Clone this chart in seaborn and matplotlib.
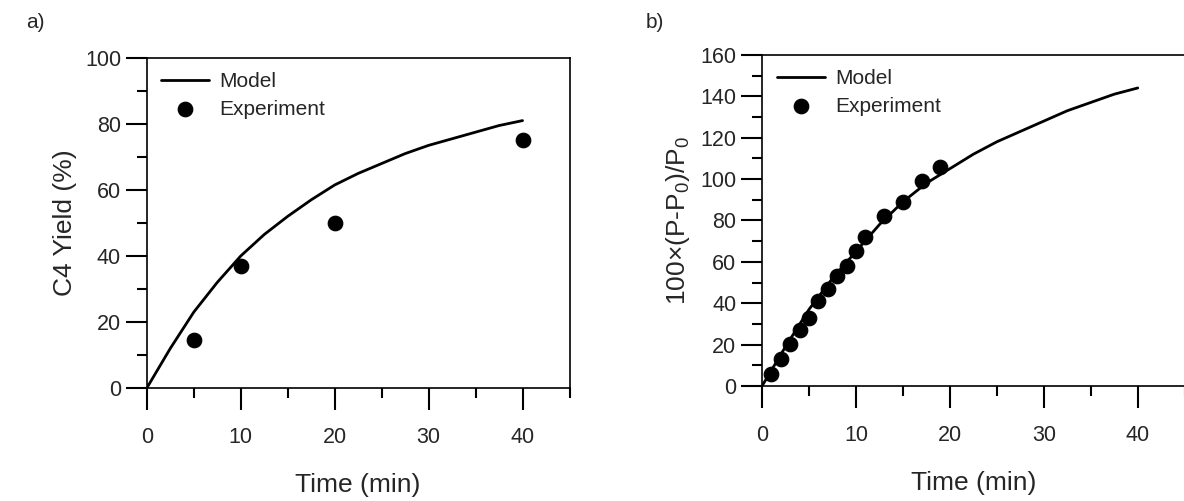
import numpy as np
import pandas as pd
import matplotlib
matplotlib.use("Agg")
import matplotlib.pyplot as plt
from matplotlib.ticker import MultipleLocator
import seaborn as sns

# panel a) C4 yield
model_a_t = [0, 2.5, 5, 7.5, 10, 12.5, 15, 17.5, 20, 22.5, 25, 27.5, 30, 32.5, 35, 37.5, 40]
model_a_y = [0, 12, 23, 32, 40, 46.5, 52, 57, 61.5, 65, 68, 71, 73.5, 75.5, 77.5, 79.5, 81]
exp_a_t = [5, 10, 20, 40]
exp_a_y = [14.5, 37, 50, 75]

# panel b) pressure rise
model_b_t = [0, 2.5, 5, 7.5, 10, 12.5, 15, 17.5, 20, 22.5, 25, 27.5, 30, 32.5, 35, 37.5, 40]
model_b_y = [0, 19, 37, 52, 65, 78, 89, 98, 105, 112, 118, 123, 128, 133, 137, 141, 144]
exp_b_t = [1, 2, 3, 4, 5, 6, 7, 8, 9, 10, 11, 13, 15, 17, 19]
exp_b_y = [6, 13, 20.5, 27, 33, 41, 47, 53, 58, 65, 72, 82, 89, 99, 106]

sns.set_theme(style="ticks")
plt.rcParams['font.family'] = ['Liberation Sans', 'DejaVu Sans']
plt.rcParams['mathtext.default'] = 'regular'

fig = plt.figure(figsize=(11.84, 5.01), dpi=100)
ax1 = fig.add_axes([0.124, 0.2255, 0.357, 0.659])
ax2 = fig.add_axes([0.6436, 0.2295, 0.357, 0.661])

def draw(ax, mt, my, et, ey, ymax, ylabel):
    sns.lineplot(x=mt, y=my, ax=ax, color='black', lw=2, label='Model')
    sns.scatterplot(x=et, y=ey, ax=ax, color='black', s=110, edgecolor='black',
                    label='Experiment', zorder=3)
    ax.set_xlim(0, 45)
    ax.set_ylim(0, ymax)
    ax.set_xticks([0, 10, 20, 30, 40])
    ax.xaxis.set_minor_locator(MultipleLocator(5))
    ax.yaxis.set_major_locator(MultipleLocator(20))
    ax.yaxis.set_minor_locator(MultipleLocator(10))
    ax.tick_params(which='major', length=15, width=1.5, labelsize=15.5, color='black')
    ax.tick_params(axis='x', which='major', length=16, pad=12)
    ax.tick_params(which='minor', length=7, width=1.5, color='black')
    for s in ax.spines.values():
        s.set_color('black')
        s.set_linewidth(1.2)
    ax.set_xlabel('Time (min)', fontsize=19, labelpad=18)
    ax.set_ylabel(ylabel, fontsize=19, labelpad=6)
    ax.legend(loc='upper left', frameon=False, fontsize=15, handlelength=2.3,
              handletextpad=0.5, borderaxespad=0.3, labelspacing=0.4)

draw(ax1, model_a_t, model_a_y, exp_a_t, exp_a_y, 100, 'C4 Yield (%)')
draw(ax2, model_b_t, model_b_y, exp_b_t, exp_b_y, 160, '100×(P-P$_0$)/P$_0$')

fig.text(0.022, 0.945, 'a)', fontsize=15)
fig.text(0.545, 0.945, 'b)', fontsize=15)

fig.savefig('out.png', dpi=100)
